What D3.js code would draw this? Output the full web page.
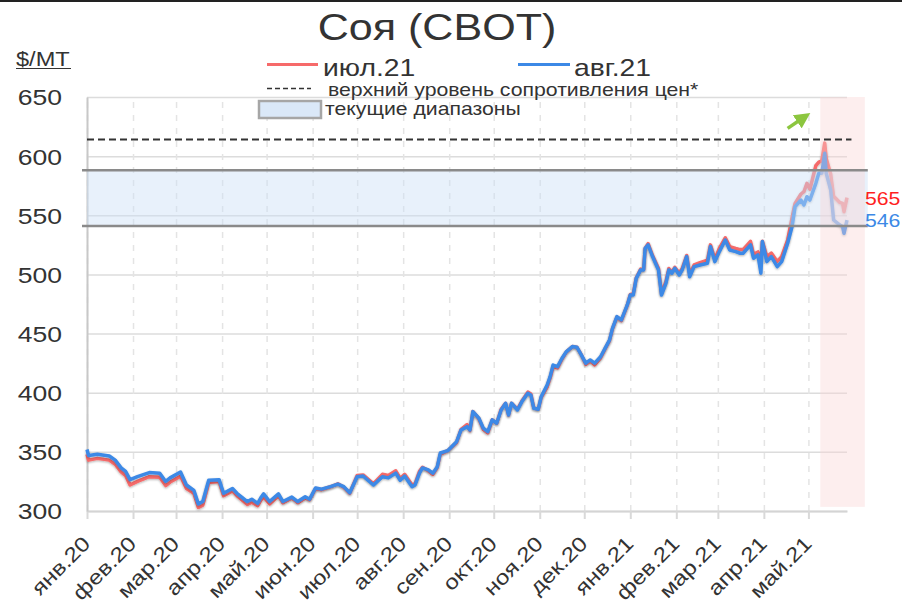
<!DOCTYPE html>
<html>
<head>
<meta charset="utf-8">
<script src="https://cdn.jsdelivr.net/npm/d3@7"></script>
<style>
body { margin: 0; background: #fff; }
svg { font-family: "Liberation Sans", Arial, sans-serif; }
</style>
</head>
<body>
<svg id="chart" width="902" height="610"></svg>
<script>
// daily closes (July 21 and August 21 contracts)
var dates = ["2020-01-01","2020-01-02","2020-01-08","2020-01-16","2020-01-20","2020-01-24","2020-01-27","2020-01-30",
  "2020-02-04","2020-02-12","2020-02-19","2020-02-23","2020-02-26","2020-03-04","2020-03-08","2020-03-13","2020-03-16",
  "2020-03-19","2020-03-23","2020-03-30","2020-04-02","2020-04-08","2020-04-11","2020-04-18","2020-04-21","2020-04-25",
  "2020-04-27","2020-04-29","2020-05-03","2020-05-09","2020-05-12","2020-05-18","2020-05-22","2020-05-27","2020-05-30",
  "2020-06-03","2020-06-07","2020-06-13","2020-06-18","2020-06-22","2020-06-26","2020-07-01","2020-07-05","2020-07-12",
  "2020-07-18","2020-07-22","2020-07-27","2020-07-30","2020-08-02","2020-08-07","2020-08-09","2020-08-12","2020-08-14",
  "2020-08-18","2020-08-21","2020-08-24","2020-08-26","2020-08-31","2020-09-06","2020-09-09","2020-09-13","2020-09-15",
  "2020-09-17","2020-09-21","2020-09-24","2020-09-27","2020-09-30","2020-10-03","2020-10-06","2020-10-09","2020-10-11",
  "2020-10-13","2020-10-17","2020-10-20","2020-10-24","2020-10-26","2020-10-28","2020-10-31","2020-11-02","2020-11-06",
  "2020-11-08","2020-11-10","2020-11-13","2020-11-16","2020-11-19","2020-11-23","2020-11-26","2020-11-29","2020-12-02",
  "2020-12-05","2020-12-08","2020-12-12","2020-12-15","2020-12-18","2020-12-20","2020-12-23","2020-12-26","2020-12-30",
  "2021-01-01","2021-01-03","2021-01-05","2021-01-08","2021-01-10","2021-01-11","2021-01-13","2021-01-16","2021-01-20",
  "2021-01-22","2021-01-25","2021-01-27","2021-01-29","2021-01-31","2021-02-03","2021-02-05","2021-02-08","2021-02-10",
  "2021-02-13","2021-02-17","2021-02-22","2021-02-24","2021-02-27","2021-03-02","2021-03-06","2021-03-09","2021-03-13",
  "2021-03-16","2021-03-18","2021-03-23","2021-03-25","2021-03-28","2021-03-30","2021-03-31","2021-04-03","2021-04-06",
  "2021-04-10","2021-04-13","2021-04-17","2021-04-20","2021-04-22","2021-04-26","2021-04-28","2021-04-30","2021-05-02",
  "2021-05-06","2021-05-08","2021-05-10","2021-05-12","2021-05-13","2021-05-16","2021-05-18","2021-05-22","2021-05-24",
  "2021-05-25","2021-05-27"];

var aug21 = [352,347,348,346.5,343,336.5,333.5,326.5,
  329,332.5,332,325,328,333,322,317.5,306,
  308,326,326.5,315,319,315,308,310,306.5,
  311,314.5,308,314.5,308,311.8,308,312,310,
  319.5,318.5,320.6,322.8,320.6,315.5,329,329.6,322,
  329,328,332,326,329.6,320.6,322,332,336.4,
  334.7,332,337.5,349,351,358.6,368.5,371.3,368.5,
  384,378.4,370,367.1,377,374.2,385.4,391.1,381.2,
  391.1,385.4,392.5,399.5,398.1,386.8,386,396.7,406.5,
  413.6,423.4,422,429.1,434.8,439,438.5,432,425,
  427.7,425,430.4,437.5,444.5,454.4,464.3,461.5,474.2,
  482.6,482.6,496.7,503.8,503.8,522.1,525,515.1,503.8,
  482.6,492.5,503.8,501,505.2,499.5,503.8,515.1,498.1,
  506.6,508,509.4,523.6,510.8,519.3,529.1,520.7,519.3,
  517.9,517.9,525,513.7,516.5,501,527.8,510.8,515.1,
  506.6,510.8,526.4,540.5,557.3,562.9,558.7,565.7,562.9,
  577,585.5,585.5,602.4,585.5,571.4,546,541.9,540.5,
  534.8,546];

var jul21 = [348,343,344.5,343,339.5,333,330,322,
  325,329,328.5,321.5,324.5,329.5,319,315,303,
  305,324,325,313,317,313,305.5,307.5,304.5,
  309,312,306,313,307,311,307,311,309.5,
  319,318,320.5,323,320,315,330,330.5,323,
  331,330,334,327.5,331,322,323,333.5,337,
  334,331,337,348,351,358,369,373,368,
  384,378,369,366,377,374,386,391,381,
  391,386,393,400.5,399,387,386,396,405,
  412.5,422,421,428.5,434.5,439,438.5,432,424,
  427,423.5,429.5,437,444,454,464,461,474,
  483,483.5,497,504.5,504,522,526,516,505,
  484,494,505,502,506,501,505,516,500,
  508,510,512,525,513,522,531,523.5,522,
  521,521,528,517,519,510,528,515,518,
  511,515,529,548,560,568,570,577,572,
  592,595,596,611,598,585,566,561,560,
  553,565];

var yTicks = [300, 350, 400, 450, 500, 550, 600, 650];
var tickMonths = ["2020-01-01","2020-02-01","2020-03-01","2020-04-01","2020-05-01","2020-06-01","2020-07-01",
  "2020-08-01","2020-09-01","2020-10-01","2020-11-01","2020-12-01","2021-01-01","2021-02-01","2021-03-01",
  "2021-04-01","2021-05-01"];
var tickLabels = ["янв.20","фев.20","мар.20","апр.20","май.20","июн.20","июл.20","авг.20","сен.20",
  "окт.20","ноя.20","дек.20","янв.21","фев.21","мар.21","апр.21","май.21"];

var seriesNames = ["июл.21", "авг.21"];
var resistance = 614;          // верхний уровень сопротивления
var rangeLevels = [588, 541];  // текущий диапазон
var highlight = ["2021-05-09", "2021-06-08"];

var parse = d3.timeParse("%Y-%m-%d");
var red = "#f66a6a", blue = "#3c89e6";
var stretch = 1.18;  // the original font is wider than Arial

var svg = d3.select("#chart");
var pL = 87, pR = 847, pT = 97, pB = 511;

var x = d3.scaleTime()
  .domain([parse("2020-01-01"), parse("2021-05-27")])
  .range([pL, pR]);
var y = d3.scaleLinear().domain([300, 650]).range([pB, pT]);

function txt(px, py, s, size, color, anchor) {
  return svg.append("text")
    .attr("transform", "translate(" + px + "," + py + ") scale(" + stretch + ",1)")
    .attr("text-anchor", anchor || "start")
    .attr("font-size", size)
    .attr("fill", color || "#333")
    .text(s);
}

// top frame line
svg.append("line").attr("x1", 0).attr("x2", 902).attr("y1", 1).attr("y2", 1)
  .attr("stroke", "#222").attr("stroke-width", 2);

var defs = svg.append("defs");
defs.append("filter").attr("id", "shadow").attr("x", "-5%").attr("y", "-5%").attr("width", "110%").attr("height", "110%")
  .append("feDropShadow").attr("dx", 0).attr("dy", 1).attr("stdDeviation", 1.2)
  .attr("flood-color", "#000").attr("flood-opacity", 0.3);
defs.append("marker").attr("id", "arrow").attr("viewBox", "0 0 10 10").attr("refX", 4).attr("refY", 5)
  .attr("markerWidth", 4.5).attr("markerHeight", 4.5).attr("orient", "auto")
  .append("path").attr("d", "M0,0 L10,5 L0,10 z").attr("fill", "#8cc63f");

// horizontal gridlines
svg.append("g")
  .attr("transform", "translate(" + pL + ",0)")
  .call(d3.axisLeft(y).tickValues(yTicks).tickSize(-(pR - pL)).tickFormat(""))
  .call(g => g.select(".domain").remove())
  .selectAll("line").attr("stroke", "#dcdcdc").attr("stroke-width", 1.5);

// vertical dashed gridlines
svg.append("g")
  .attr("transform", "translate(0," + pB + ")")
  .call(d3.axisBottom(x).tickValues(tickMonths.map(parse)).tickSize(-(pB - pT)).tickFormat(""))
  .call(g => g.select(".domain").remove())
  .selectAll("line").attr("stroke", "#e4e4e4").attr("stroke-width", 1.5).attr("stroke-dasharray", "6,7");

// x axis
var xAxis = svg.append("g")
  .attr("transform", "translate(0," + pB + ")")
  .call(d3.axisBottom(x).tickValues(tickMonths.map(parse)).tickSize(8).tickSizeOuter(0)
    .tickFormat((d, i) => tickLabels[i]));
xAxis.select(".domain").attr("stroke", "#d4d4d4").attr("stroke-width", 2);
xAxis.selectAll(".tick line").attr("stroke", "#d9d9d9").attr("stroke-width", 2);
xAxis.selectAll(".tick text")
  .attr("x", 0).attr("y", 0).attr("dy", 0)
  .attr("transform", "translate(4,34) rotate(-45) scale(" + stretch + ",1)")
  .attr("text-anchor", "end")
  .attr("font-size", 20.5)
  .attr("font-family", "Liberation Sans, Arial, sans-serif")
  .attr("fill", "#333");

// y axis
var yAxis = svg.append("g")
  .attr("transform", "translate(" + pL + ",0)")
  .call(d3.axisLeft(y).tickValues(yTicks).tickSize(0).tickSizeOuter(0));
yAxis.select(".domain").attr("stroke", "#c8c8c8").attr("stroke-width", 2);
yAxis.selectAll(".tick text")
  .attr("x", 0).attr("dy", "0.35em")
  .attr("transform", "translate(-25,0) scale(" + stretch + ",1)")
  .attr("font-size", 22.5)
  .attr("font-family", "Liberation Sans, Arial, sans-serif")
  .attr("fill", "#333");

// series
var rows = dates.map((d, i) => ({ date: parse(d), jul: jul21[i], aug: aug21[i] }));
var lineJul = d3.line().x(d => x(d.date)).y(d => y(d.jul));
var lineAug = d3.line().x(d => x(d.date)).y(d => y(d.aug));
svg.append("path").datum(rows).attr("d", lineJul)
  .attr("fill", "none").attr("stroke", red).attr("stroke-width", 3.5)
  .attr("stroke-linejoin", "round").attr("filter", "url(#shadow)");
svg.append("path").datum(rows).attr("d", lineAug)
  .attr("fill", "none").attr("stroke", blue).attr("stroke-width", 3.5)
  .attr("stroke-linejoin", "round").attr("filter", "url(#shadow)");

// current range band
var bandEnd = x(parse("2021-06-10"));
svg.append("rect")
  .attr("x", pL).attr("width", bandEnd - pL)
  .attr("y", y(rangeLevels[0])).attr("height", y(rangeLevels[1]) - y(rangeLevels[0]))
  .attr("fill", "#cddff7").attr("opacity", 0.45);

// highlighted latest month
svg.append("rect")
  .attr("x", x(parse(highlight[0]))).attr("width", x(parse(highlight[1])) - x(parse(highlight[0])))
  .attr("y", pT).attr("height", y(303.5) - pT)
  .attr("fill", "#fbd5d5").attr("opacity", 0.4);

rangeLevels.forEach(function (v) {
  svg.append("line")
    .attr("x1", pL - 5).attr("x2", bandEnd)
    .attr("y1", y(v)).attr("y2", y(v))
    .attr("stroke", "#8a8a8a").attr("stroke-width", 2.5);
});

// resistance level
svg.append("line")
  .attr("x1", pL).attr("x2", x(parse("2021-05-30")))
  .attr("y1", y(resistance)).attr("y2", y(resistance))
  .attr("stroke", "#333").attr("stroke-width", 2).attr("stroke-dasharray", "7,4");

// green arrow
svg.append("line")
  .attr("x1", x(parse("2021-04-17"))).attr("y1", y(623.5))
  .attr("x2", x(parse("2021-04-27"))).attr("y2", y(632))
  .attr("stroke", "#8cc63f").attr("stroke-width", 3.5).attr("marker-end", "url(#arrow)");

// last values
var last = rows[rows.length - 1];
txt(865, y(last.jul) + 7, String(last.jul), 18, "#ff1f1f");
txt(865, y(last.aug) + 7, String(last.aug), 18, blue);

// title and units
txt(437, 40, "Соя (CBOT)", 36.5, "#333", "middle");
txt(16, 66, "$/MT", 20, "#333");
svg.append("line").attr("x1", 16).attr("x2", 71).attr("y1", 68.5).attr("y2", 68.5)
  .attr("stroke", "#333").attr("stroke-width", 1.2);

// legend
svg.append("line").attr("x1", 267).attr("x2", 318).attr("y1", 64.5).attr("y2", 64.5)
  .attr("stroke", red).attr("stroke-width", 3);
txt(323, 76, seriesNames[0], 24, "#333");
svg.append("line").attr("x1", 518).attr("x2", 570).attr("y1", 64.5).attr("y2", 64.5)
  .attr("stroke", blue).attr("stroke-width", 3);
txt(574, 76, seriesNames[1], 24, "#333");
svg.append("line").attr("x1", 267).attr("x2", 311).attr("y1", 88.5).attr("y2", 88.5)
  .attr("stroke", "#333").attr("stroke-width", 1.5).attr("stroke-dasharray", "5,3");
txt(328, 96, "верхний уровень сопротивления цен*", 18, "#333");
svg.append("rect").attr("x", 259).attr("y", 101).attr("width", 62).attr("height", 17)
  .attr("fill", "#dae8f8").attr("stroke", "#a6a6a6").attr("stroke-width", 2.5);
txt(325, 115, "текущие диапазоны", 18, "#333");
</script>
</body>
</html>
